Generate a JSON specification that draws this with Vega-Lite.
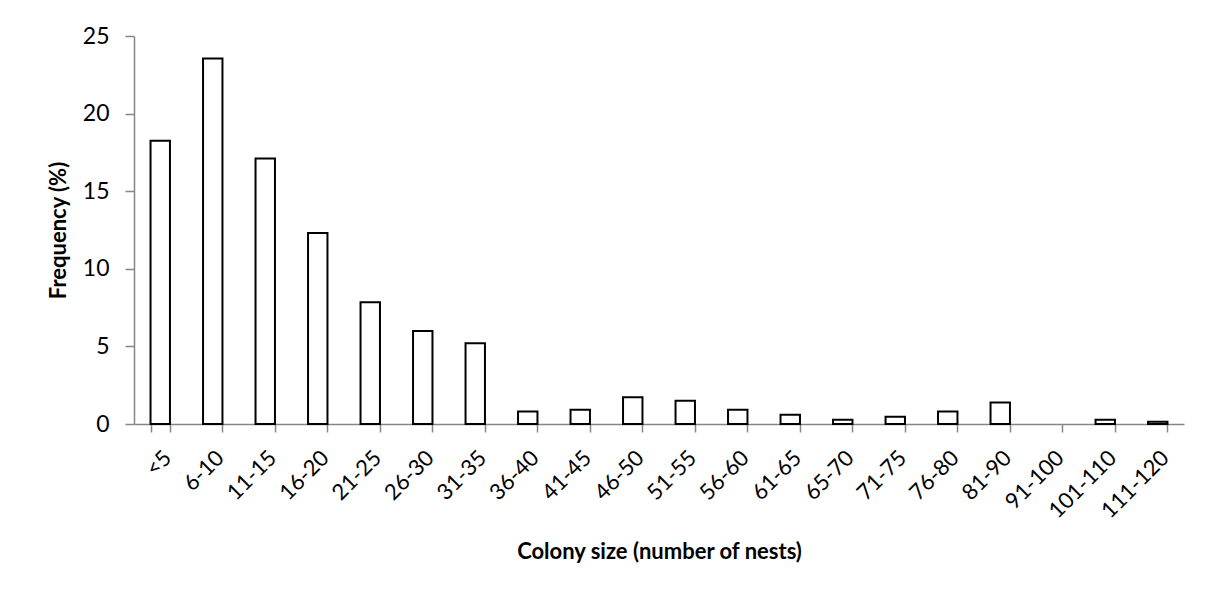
{
  "$schema": "https://vega.github.io/schema/vega-lite/v6.json",
  "width": 1050,
  "height": 388,
  "autosize": "none",
  "padding": {"left": 134, "top": 36, "right": 25, "bottom": 173},
  "background": "white",
  "config": {
    "view": {"stroke": null},
    "font": "Lato"
  },
  "data": {
    "values": [
      {"size": "<5", "freq": 18.25},
      {"size": "6-10", "freq": 23.55},
      {"size": "11-15", "freq": 17.1},
      {"size": "16-20", "freq": 12.3},
      {"size": "21-25", "freq": 7.85},
      {"size": "26-30", "freq": 6.0},
      {"size": "31-35", "freq": 5.2},
      {"size": "36-40", "freq": 0.8},
      {"size": "41-45", "freq": 0.92},
      {"size": "46-50", "freq": 1.72},
      {"size": "51-55", "freq": 1.5},
      {"size": "56-60", "freq": 0.92},
      {"size": "61-65", "freq": 0.6},
      {"size": "65-70", "freq": 0.28},
      {"size": "71-75", "freq": 0.47},
      {"size": "76-80", "freq": 0.8},
      {"size": "81-90", "freq": 1.38},
      {"size": "91-100", "freq": 0},
      {"size": "101-110", "freq": 0.28},
      {"size": "111-120", "freq": 0.15}
    ]
  },
  "mark": {"type": "bar", "fill": "white", "stroke": "black", "strokeWidth": 2},
  "encoding": {
    "strokeOpacity": {"condition": {"test": "datum.freq == 0", "value": 0}, "value": 1},
    "x": {
      "field": "size",
      "type": "nominal",
      "sort": null,
      "scale": {"paddingInner": 0.63, "paddingOuter": 0.315},
      "axis": {
        "title": "Colony size (number of nests)",
        "titleFontSize": 22,
        "titleFontWeight": "bold",
        "titleColor": "black",
        "titlePadding": 20,
        "labelAngle": -45,
        "labelFontSize": 22,
        "labelColor": "black",
        "labelPadding": 15,
        "domainColor": "#868686",
        "domainWidth": 1.5,
        "tickColor": "#868686",
        "tickSize": 8,
        "tickWidth": 1.5,
        "tickBand": "extent",
        "grid": false
      }
    },
    "y": {
      "field": "freq",
      "type": "quantitative",
      "scale": {"domain": [0, 25]},
      "axis": {
        "title": "Frequency (%)",
        "titleFontSize": 22,
        "titleFontWeight": "bold",
        "titleColor": "black",
        "titlePadding": 12,
        "values": [0, 5, 10, 15, 20, 25],
        "labelFontSize": 23,
        "labelColor": "black",
        "labelPadding": 16,
        "domainColor": "#868686",
        "domainWidth": 1.5,
        "tickColor": "#868686",
        "tickSize": 9,
        "tickWidth": 1.5,
        "grid": false
      }
    }
  }
}
